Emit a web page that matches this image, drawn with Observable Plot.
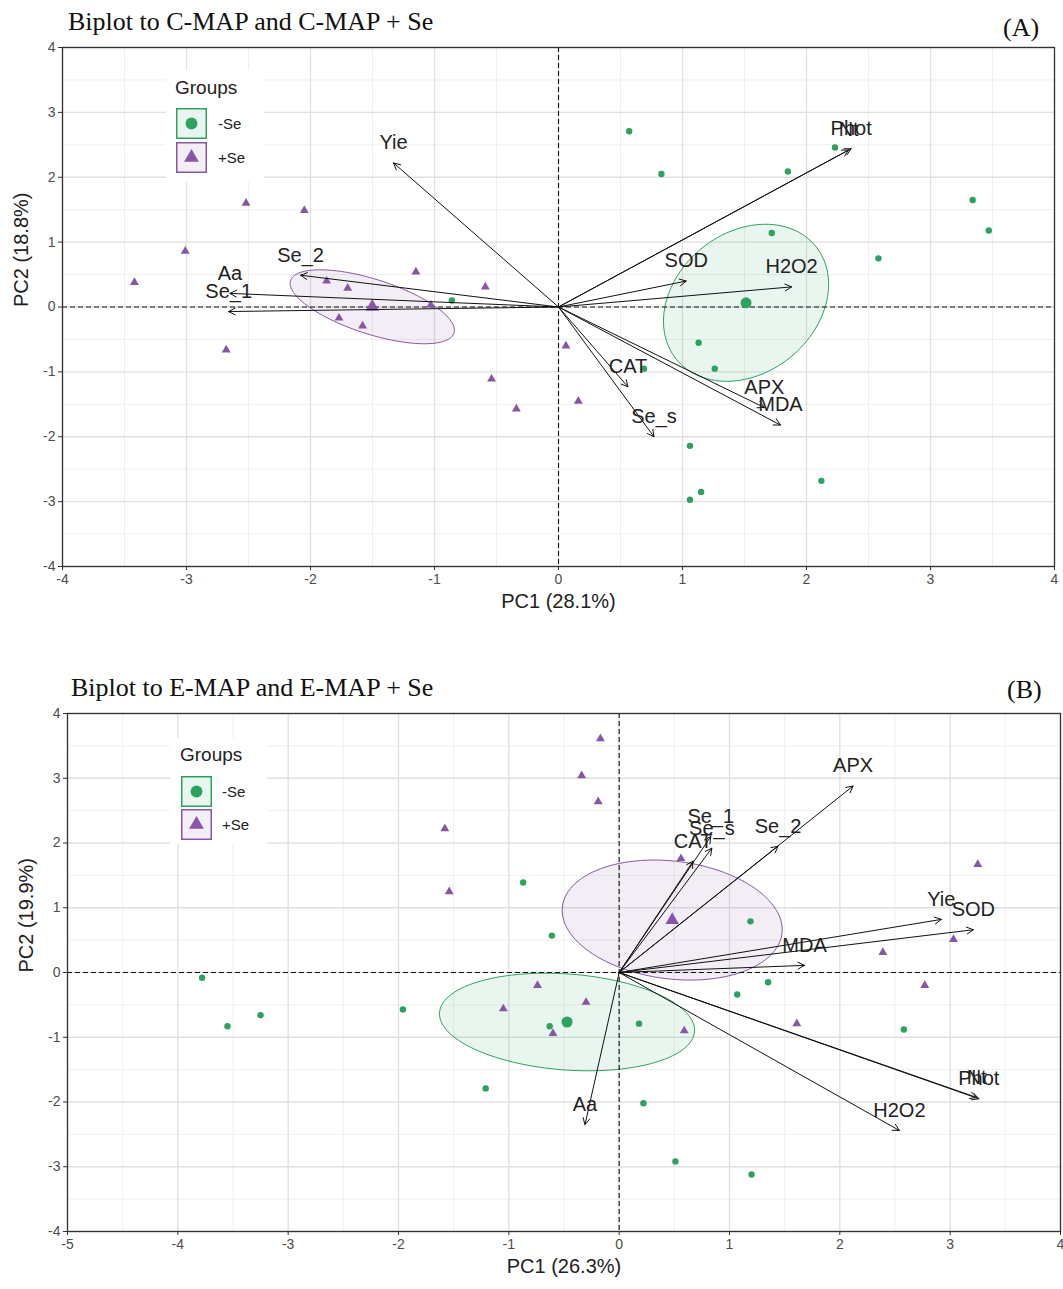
<!DOCTYPE html>
<html><head><meta charset="utf-8">
<script src="https://cdn.jsdelivr.net/npm/d3@7"></script>
<script src="https://cdn.jsdelivr.net/npm/@observablehq/plot@0.6"></script>
<style>
body{margin:0;background:#fff;}
#wrap{position:relative;width:1063px;height:1289px;overflow:hidden;font-family:"Liberation Sans",Arial,sans-serif;background:#fff;}
.title{position:absolute;font-family:"Liberation Serif","Times New Roman",serif;font-size:26px;color:#111;white-space:nowrap;line-height:1;}
.panel{position:absolute;left:0;}
.lbg{position:absolute;background:#fff;}
.ltxt{position:absolute;color:#222;white-space:nowrap;line-height:1;}
.key{position:absolute;}
</style></head>
<body><div id="wrap"></div>
<script>
// ---------- Panel A: C-MAP and C-MAP + Se ----------
const A_minusSe_pc1 = [0.57,0.83,1.85,2.23,3.34,3.47,1.72,2.58,-0.86,1.13,1.26,0.69,1.06,1.15,1.06,2.12];
const A_minusSe_pc2 = [2.71,2.05,2.09,2.46,1.65,1.18,1.14,0.75,0.10,-0.55,-0.95,-0.95,-2.14,-2.85,-2.97,-2.68];
const A_plusSe_pc1  = [-2.52,-2.05,-3.01,-3.42,-1.15,-1.87,-1.70,-0.59,-1.03,-1.77,-1.58,-2.68,-0.54,-0.34,0.06,0.16];
const A_plusSe_pc2  = [1.60,1.49,0.86,0.38,0.54,0.40,0.29,0.31,0.03,-0.17,-0.29,-0.66,-1.11,-1.57,-0.60,-1.45];
const A_vars    = ["Yie","Se_2","Aa","Se_1","SOD","H2O2","Phot","Nt","CAT","Se_s","APX","MDA"];
const A_var_pc1 = [-1.33,-2.08,-2.65,-2.66,1.03,1.88,2.36,2.34,0.56,0.77,1.66,1.79];
const A_var_pc2 = [2.22,0.49,0.21,-0.07,0.40,0.31,2.44,2.42,-1.23,-2.00,-1.55,-1.82];

// ---------- Panel B: E-MAP and E-MAP + Se ----------
const B_minusSe_pc1 = [-3.78,-3.55,-3.25,-1.96,-1.21,-0.87,-0.61,-0.63,0.18,0.22,0.51,1.19,1.07,1.35,1.20,2.58];
const B_minusSe_pc2 = [-0.08,-0.83,-0.66,-0.57,-1.79,1.39,0.57,-0.83,-0.79,-2.02,-2.92,0.79,-0.34,-0.15,-3.12,-0.88];
const B_plusSe_pc1  = [-0.17,-0.34,-0.19,-1.58,-1.54,0.56,3.25,3.03,2.39,2.77,1.61,0.59,-0.30,-0.74,-1.05,-0.60];
const B_plusSe_pc2  = [3.61,3.04,2.64,2.22,1.25,1.76,1.67,0.51,0.31,-0.20,-0.79,-0.90,-0.46,-0.20,-0.56,-0.94];
const B_vars    = ["APX","Se_2","Se_1","Se_s","CAT","Yie","SOD","MDA","Aa","H2O2","Phot","Nt"];
const B_var_pc1 = [2.12,1.44,0.83,0.84,0.67,2.92,3.21,1.68,-0.31,2.54,3.26,3.24];
const B_var_pc2 = [2.88,1.95,2.10,1.92,1.72,0.82,0.66,0.11,-2.35,-2.44,-1.95,-1.93];

const groups = ["-Se", "+Se"];
const GREEN = "#2ca25f", PURPLE = "#8856a7";

const toRows = (xs, ys) => xs.map((x, i) => ({pc1: x, pc2: ys[i]}));
const toVars = (names, xs, ys) => names.map((n, i) => ({name: n, pc1: xs[i], pc2: ys[i]}));

// 95% confidence ellipse of the group mean
function ellipse(xs, ys) {
  const n = xs.length, mx = d3.mean(xs), my = d3.mean(ys);
  const sxx = d3.variance(xs) / n, syy = d3.variance(ys) / n;
  const sxy = d3.sum(xs, (x, i) => (x - mx) * (ys[i] - my)) / (n - 1) / n;
  const r = sxy / Math.sqrt(sxx * syy), d = Math.acos(r), t = Math.sqrt(-2 * Math.log(0.05));
  return d3.range(0, 121).map(i => {
    const a = i / 120 * 2 * Math.PI;
    return {pc1: mx + t * Math.sqrt(sxx) * Math.cos(a + d / 2), pc2: my + t * Math.sqrt(syy) * Math.cos(a - d / 2)};
  });
}

function panel(cfg) {
  const minus = toRows(cfg.mx, cfg.my), plus = toRows(cfg.px, cfg.py);
  const vars = toVars(cfg.names, cfg.vx, cfg.vy);
  const xt = d3.range(cfg.xDomain[0], cfg.xDomain[1] + 1);
  const yt = d3.range(-4, 5);
  const xm = d3.range(cfg.xDomain[0] + 0.5, cfg.xDomain[1], 1);
  const ym = d3.range(-3.5, 4, 1);
  const meanMinus = {pc1: d3.mean(cfg.mx), pc2: d3.mean(cfg.my)};
  const meanPlus = {pc1: d3.mean(cfg.px), pc2: d3.mean(cfg.py)};
  return Plot.plot({
    width: 1063, height: cfg.height,
    marginTop: cfg.mt, marginBottom: cfg.mb, marginLeft: cfg.ml, marginRight: cfg.mr,
    x: {domain: cfg.xDomain}, y: {domain: [-4, 4]},
    style: {fontFamily: "'Liberation Sans', Arial, sans-serif", fontSize: "14px", background: "white", color: "#4d4d4d"},
    marks: [
      Plot.ruleX(xm, {stroke: "#ededed", strokeWidth: 0.9}),
      Plot.ruleY(ym, {stroke: "#ededed", strokeWidth: 0.9}),
      Plot.ruleX(xt, {stroke: "#e0e0e0", strokeWidth: 1.3}),
      Plot.ruleY(yt, {stroke: "#e0e0e0", strokeWidth: 1.3}),
      Plot.line(ellipse(cfg.mx, cfg.my), {x: "pc1", y: "pc2", stroke: GREEN, fill: GREEN, fillOpacity: 0.1, strokeWidth: 1}),
      Plot.line(ellipse(cfg.px, cfg.py), {x: "pc1", y: "pc2", stroke: PURPLE, fill: PURPLE, fillOpacity: 0.1, strokeWidth: 1}),
      Plot.ruleX([0], {stroke: "#111", strokeDasharray: "5,3", strokeWidth: 1.1}),
      Plot.ruleY([0], {stroke: "#111", strokeDasharray: "5,3", strokeWidth: 1.1}),
      Plot.dot(minus, {x: "pc1", y: "pc2", r: 3.2, fill: GREEN, symbol: "circle"}),
      Plot.dot(plus, {x: "pc1", y: "pc2", r: 3.3, fill: PURPLE, symbol: "triangle"}),
      Plot.dot([meanMinus], {x: "pc1", y: "pc2", r: 5.5, fill: GREEN, symbol: "circle"}),
      Plot.dot([meanPlus], {x: "pc1", y: "pc2", r: 5, fill: PURPLE, symbol: "triangle"}),
      Plot.arrow(vars, {x1: () => 0, y1: () => 0, x2: "pc1", y2: "pc2", stroke: "#111", strokeWidth: 1, headLength: 11, headAngle: 55}),
      Plot.text(vars, {x: "pc1", y: "pc2", text: "name", dy: -20, fontSize: 20, fill: "#222"}),
      Plot.axisX({ticks: xt, tickSize: 4, tickPadding: 4, label: null, fontSize: 14, tickFormat: d => String(d), stroke: "#333"}),
      Plot.axisY({ticks: yt, tickSize: 4, tickPadding: 3, label: null, fontSize: 14, tickFormat: d => String(d), stroke: "#333"}),
      Plot.frame({stroke: "#333", strokeWidth: 1.3}),
      Plot.text([cfg.xLabel], {frameAnchor: "bottom", dy: 41, fontSize: 20, fill: "#222"}),
      Plot.text([cfg.yLabel], {frameAnchor: "left", dx: -41, rotate: -90, fontSize: 20, fill: "#222"})
    ]
  });
}

const wrap = document.getElementById("wrap");

function place(el, top) { el.classList.add("panel"); el.style.top = top + "px"; wrap.appendChild(el); }

place(panel({height: 640, mt: 47, mb: 74, ml: 62, mr: 9, xDomain: [-4, 4],
  mx: A_minusSe_pc1, my: A_minusSe_pc2, px: A_plusSe_pc1, py: A_plusSe_pc2,
  names: A_vars, vx: A_var_pc1, vy: A_var_pc2, xLabel: "PC1 (28.1%)", yLabel: "PC2 (18.8%)"}), 0);

place(panel({height: 639, mt: 63, mb: 58, ml: 67, mr: 3, xDomain: [-5, 4],
  mx: B_minusSe_pc1, my: B_minusSe_pc2, px: B_plusSe_pc1, py: B_plusSe_pc2,
  names: B_vars, vx: B_var_pc1, vy: B_var_pc2, xLabel: "PC1 (26.3%)", yLabel: "PC2 (19.9%)"}), 650);

function addText(cls, txt, left, top, extra) {
  const d = document.createElement("div");
  d.className = cls; d.textContent = txt;
  d.style.left = left + "px"; d.style.top = top + "px";
  if (extra) Object.assign(d.style, extra);
  wrap.appendChild(d);
  return d;
}

addText("title", "Biplot to C-MAP and C-MAP + Se", 68, 9);
addText("title", "(A)", 1003, 15);
addText("title", "Biplot to E-MAP and E-MAP + Se", 71, 675);
addText("title", "(B)", 1007, 677);

function legend(bg, keyLeft, keyTops, titleTop, labelLeft) {
  const b = document.createElement("div");
  b.className = "lbg";
  Object.assign(b.style, {left: bg[0] + "px", top: bg[1] + "px", width: bg[2] + "px", height: bg[3] + "px"});
  wrap.appendChild(b);
  addText("ltxt", "Groups", keyLeft - 1, titleTop, {fontSize: "19px"});
  groups.forEach((g, i) => {
    const col = i === 0 ? GREEN : PURPLE;
    const svg = d3.create("svg").attr("class", "key").attr("width", 31).attr("height", 31)
      .style("left", keyLeft + "px").style("top", keyTops[i] + "px");
    svg.append("rect").attr("x", 0.75).attr("y", 0.75).attr("width", 29.5).attr("height", 29.5)
      .attr("fill", col).attr("fill-opacity", 0.1).attr("stroke", col).attr("stroke-width", 1.5);
    svg.append("path").attr("transform", "translate(15.5,15.5)")
      .attr("d", d3.symbol(i === 0 ? d3.symbolCircle : d3.symbolTriangle, i === 0 ? 110 : 95)())
      .attr("fill", col);
    wrap.appendChild(svg.node());
    addText("ltxt", g, labelLeft, keyTops[i] + 8, {fontSize: "15px"});
  });
}
legend([166, 70, 98, 112], 176, [108, 142], 78, 218);
legend([170, 738, 97, 106], 181, [776, 809], 745, 222);
</script>
</body></html>
